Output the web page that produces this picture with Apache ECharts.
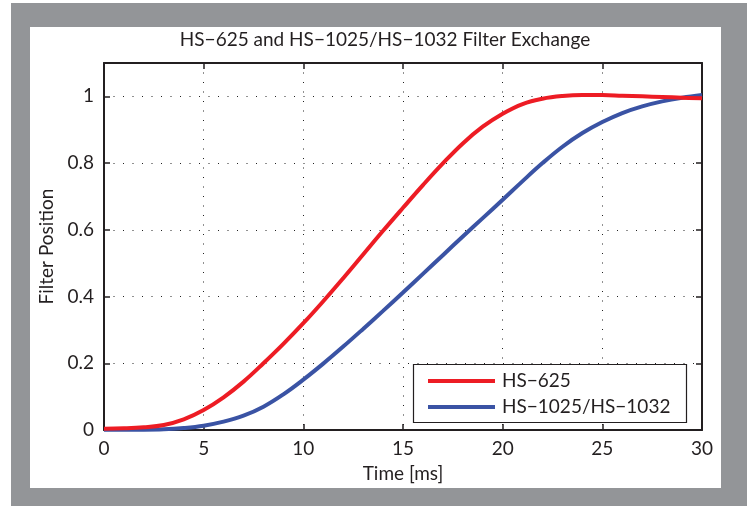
<!DOCTYPE html>
<html>
<head>
<meta charset="utf-8">
<script src="https://cdn.jsdelivr.net/npm/echarts@6/dist/echarts.min.js"></script>
<style>
html,body{margin:0;padding:0;background:#fff;}
#c{width:750px;height:506px;}
</style>
</head>
<body>
<div id="c"></div>
<script>
const timeMs = [0,1,2,3,4,5,6,7,8,9,10,11,12,13,14,15,16,17,18,19,20,21,22,23,24,25,26,27,28,29,30];
const hs625 = [0.004,0.005,0.008,0.015,0.032,0.060,0.098,0.145,0.200,0.258,0.320,0.386,0.455,0.526,0.597,0.666,0.734,0.799,0.859,0.909,0.948,0.977,0.993,1.001,1.004,1.004,1.002,1.000,0.998,0.996,0.994];
const hs1025 = [0.001,0.001,0.001,0.002,0.006,0.013,0.025,0.043,0.070,0.107,0.151,0.199,0.250,0.303,0.357,0.412,0.468,0.524,0.580,0.635,0.690,0.746,0.800,0.849,0.890,0.923,0.950,0.970,0.985,0.996,1.004];
const xTicks = [0,5,10,15,20,25,30];
const yTicks = [0,0.2,0.4,0.6,0.8,1];
const seriesNames = ['HS\u2212625','HS\u22121025/HS\u22121032'];
const titleText = 'HS\u2212625 and HS\u22121025/HS\u22121032 Filter Exchange';

const FONT = 'Lato';
const FS = 19;
const INK = '#231f20';
const chart = echarts.init(document.getElementById('c'));
const pair = (xs, ys) => xs.map((x, i) => [x, ys[i]]);

const axisCommon = {
  type: 'value', min: 0,
  axisLine: {show: true, onZero: false, lineStyle: {color: INK, width: 2}},
  axisTick: {show: true, inside: true, length: 6, lineStyle: {color: INK, width: 1.5}},
};

chart.setOption({
  animation: false,
  backgroundColor: 'transparent',
  graphic: [
    {type: 'rect', z: -100, shape: {x: 11, y: 3, width: 736, height: 503}, style: {fill: '#939598'}},
    {type: 'rect', z: -99, shape: {x: 30, y: 27, width: 691, height: 461}, style: {fill: '#ffffff'}},
    {type: 'rect', z: 3, shape: {x: 413.5, y: 364.5, width: 273, height: 58}, style: {fill: '#ffffff', stroke: INK, lineWidth: 1.2}}
  ],
  title: {
    text: titleText, left: 385, top: 30, textAlign: 'center', padding: 0,
    textStyle: {fontFamily: FONT, fontSize: FS, fontWeight: 'normal', color: INK}
  },
  legend: {
    orient: 'vertical', left: 428, top: 371, padding: 0, itemGap: 6,
    itemWidth: 67, itemHeight: 4, icon: 'rect',
    data: seriesNames,
    textStyle: {fontFamily: FONT, fontSize: FS, color: INK, lineHeight: 20, padding: [0, 0, 0, 2]}
  },
  grid: {left: 104, top: 63, width: 598, height: 367, containLabel: false},
  xAxis: [
    Object.assign({}, axisCommon, {
      max: 30, interval: 5, position: 'bottom',
      name: 'Time [ms]', nameLocation: 'middle', nameGap: 34,
      nameTextStyle: {fontFamily: FONT, fontSize: FS, color: INK},
      axisLabel: {fontFamily: FONT, fontSize: FS, color: INK, margin: 9,
        formatter: v => xTicks.includes(v) ? String(v) : ''},
      splitLine: {show: true, lineStyle: {color: '#222', width: 1, type: [1, 8.5]}}
    }),
    Object.assign({}, axisCommon, {
      max: 30, interval: 5, position: 'top',
      axisLabel: {show: false}, splitLine: {show: false}
    })
  ],
  yAxis: [
    Object.assign({}, axisCommon, {
      max: 1.1, interval: 0.2, position: 'left',
      name: 'Filter Position', nameLocation: 'middle', nameGap: 48,
      nameTextStyle: {fontFamily: FONT, fontSize: FS, color: INK},
      axisLabel: {fontFamily: FONT, fontSize: FS, color: INK, margin: 10,
        formatter: v => yTicks.some(t => Math.abs(t - v) < 1e-9) ? String(+v.toFixed(1)) : ''},
      splitLine: {show: true, lineStyle: {color: '#222', width: 1, type: [1, 8.5]}}
    }),
    Object.assign({}, axisCommon, {
      max: 1.1, interval: 0.2, position: 'right',
      axisLabel: {show: false}, splitLine: {show: false}
    })
  ],
  series: [
    {name: seriesNames[0], type: 'line', data: pair(timeMs, hs625), smooth: 0.4, symbol: 'none',
      lineStyle: {color: '#ed1c24', width: 4}, itemStyle: {color: '#ed1c24'}, z: 3},
    {name: seriesNames[1], type: 'line', data: pair(timeMs, hs1025), smooth: 0.4, symbol: 'none',
      lineStyle: {color: '#3a53a4', width: 4}, itemStyle: {color: '#3a53a4'}, z: 2}
  ]
});
</script>
</body>
</html>
